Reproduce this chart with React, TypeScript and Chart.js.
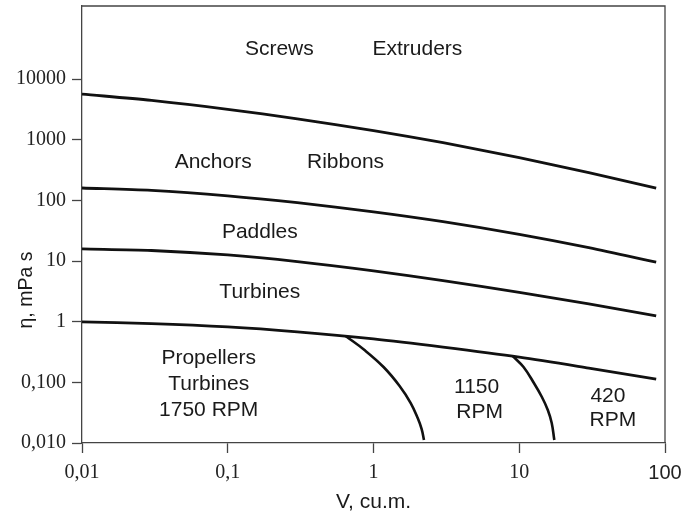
import React, { useEffect, useRef } from "react";
import { Chart, registerables } from "chart.js";

Chart.register(...registerables);

// Axis ticks
const X_TICKS = [0.01, 0.1, 1, 10, 100];
const X_TICK_LABELS = ["0,01", "0,1", "1", "10", "100"];
const Y_TICKS = [0.01, 0.1, 1, 10, 100, 1000, 10000];
const Y_TICK_LABELS = ["0,010", "0,100", "1", "10", "100", "1000", "10000"];
const X_MIN = 0.01;
const X_MAX = 100;
const Y_MIN = 0.01;
const Y_MAX = 160000;

// Boundary curves (V in cu.m., viscosity in mPa s)
const volume = [0.01, 0.03, 0.1, 0.3, 1, 3, 10, 30, 87];
const screwsBoundary = [5650, 4440, 3170, 2210, 1413, 891, 506, 286, 159];
const anchorsBoundary = [160, 146, 119, 91.6, 64.6, 44.5, 27.5, 16.6, 9.55];
const paddlesBoundary = [15.8, 14.9, 12.6, 9.8, 6.9, 4.75, 3.04, 1.96, 1.25];
const turbinesBoundary = [0.99, 0.93, 0.82, 0.68, 0.52, 0.38, 0.26, 0.172, 0.113];

// Speed boundaries
const rpm1750X = [0.643, 0.867, 1.172, 1.51, 1.8, 2.01, 2.14, 2.22];
const rpm1750Y = [0.581, 0.341, 0.179, 0.0871, 0.0456, 0.0258, 0.017, 0.0112];
const rpm1150X = [9.02, 10.7, 12.6, 14.3, 15.7, 16.7, 17.4];
const rpm1150Y = [0.272, 0.179, 0.0975, 0.0573, 0.035, 0.0214, 0.0112];

// Region labels (anchored in data coordinates: centre x, baseline y)
const regionLabels = [
  "Screws", "Extruders", "Anchors", "Ribbons", "Paddles", "Turbines",
  "Propellers", "Turbines", "1750 RPM", "1150", "RPM", "420", "RPM",
];
const labelX = [0.226, 2.0, 0.0794, 0.643, 0.166, 0.166, 0.074, 0.074, 0.074, 5.1, 5.35, 40.6, 43.9];
const labelY = [24800, 24800, 341, 341, 23.9, 2.45, 0.2, 0.0749, 0.0279, 0.0667, 0.0258, 0.0474, 0.0191];

const X_TITLE = "V, cu.m.";
const Y_TITLE = "η, mPa s";

const SANS = "'Liberation Sans', Arial, Helvetica, sans-serif";
const SERIF = "'Liberation Serif', 'Times New Roman', serif";
const AXIS_COLOR = "#444";
const LINE_COLOR = "#111";

const toPoints = (xs: number[], ys: number[]) => xs.map((x, i) => ({ x, y: ys[i] }));

const overlayPlugin = {
  id: "overlay",
  afterDraw(chart: any) {
    const { ctx, chartArea: a, scales } = chart;
    ctx.save();
    // top & right frame
    ctx.strokeStyle = AXIS_COLOR;
    ctx.lineWidth = 1.3;
    ctx.beginPath();
    ctx.moveTo(a.left, a.top);
    ctx.lineTo(a.right, a.top);
    ctx.lineTo(a.right, a.bottom);
    ctx.stroke();

    // region labels
    ctx.fillStyle = "#1a1a1a";
    ctx.font = `21px ${SANS}`;
    ctx.textAlign = "center";
    ctx.textBaseline = "alphabetic";
    regionLabels.forEach((t, i) => {
      ctx.fillText(t, scales.x.getPixelForValue(labelX[i]), scales.y.getPixelForValue(labelY[i]));
    });

    // axis titles
    ctx.font = `21px ${SANS}`;
    ctx.fillText(X_TITLE, (a.left + a.right) / 2, 508);
    ctx.translate(32, 290);
    ctx.rotate(-Math.PI / 2);
    ctx.font = `19.5px ${SANS}`;
    ctx.fillText(Y_TITLE, 0, 0);
    ctx.restore();
  },
};

const zeroPad = (s: any) => {
  s.paddingTop = 0;
  s.paddingBottom = 0;
  s.paddingLeft = 0;
  s.paddingRight = 0;
};

export default function App() {
  const ref = useRef<HTMLCanvasElement | null>(null);

  useEffect(() => {
    if (!ref.current) return;
    const lineStyle = {
      borderColor: LINE_COLOR,
      borderWidth: 2.8,
      pointRadius: 0,
      fill: false,
      tension: 0.3,
    };
    const chart = new Chart(ref.current, {
      type: "line",
      data: {
        datasets: [
          { label: "Screws / Anchors", data: toPoints(volume, screwsBoundary), ...lineStyle },
          { label: "Anchors / Paddles", data: toPoints(volume, anchorsBoundary), ...lineStyle },
          { label: "Paddles / Turbines", data: toPoints(volume, paddlesBoundary), ...lineStyle },
          { label: "Turbines / Propellers", data: toPoints(volume, turbinesBoundary), ...lineStyle },
          { label: "1750 RPM", data: toPoints(rpm1750X, rpm1750Y), ...lineStyle, borderWidth: 2.6, tension: 0.4 },
          { label: "1150 RPM", data: toPoints(rpm1150X, rpm1150Y), ...lineStyle, borderWidth: 2.6, tension: 0.4 },
        ],
      },
      options: {
        animation: false,
        responsive: false,
        maintainAspectRatio: false,
        layout: { padding: { left: 0, right: 18, top: 6, bottom: 0 } },
        plugins: { legend: { display: false }, tooltip: { enabled: false } },
        events: [],
        scales: {
          x: {
            type: "logarithmic",
            min: X_MIN,
            max: X_MAX,
            afterBuildTicks: (s: any) => {
              s.ticks = X_TICKS.map((v) => ({ value: v }));
            },
            afterFit: (s: any) => {
              s.height = 71;
              zeroPad(s);
            },
            grid: { drawOnChartArea: false, drawTicks: true, tickLength: 10, tickColor: AXIS_COLOR, tickWidth: 1.3 },
            border: { display: true, color: AXIS_COLOR, width: 1.3 },
            ticks: {
              autoSkip: false,
              maxRotation: 0,
              padding: 8,
              color: "#222",
              font: (c: any) =>
                c.tick && c.tick.value === 100
                  ? { family: SANS, size: 20 }
                  : { family: SERIF, size: 20 },
              callback: (v: any) => X_TICK_LABELS[X_TICKS.indexOf(Number(v))] ?? "",
            },
          },
          y: {
            type: "logarithmic",
            min: Y_MIN,
            max: Y_MAX,
            afterBuildTicks: (s: any) => {
              s.ticks = Y_TICKS.map((v) => ({ value: v }));
            },
            afterFit: (s: any) => {
              s.width = 82;
              zeroPad(s);
            },
            grid: { drawOnChartArea: false, drawTicks: true, tickLength: 10, tickColor: AXIS_COLOR, tickWidth: 1.3 },
            border: { display: true, color: AXIS_COLOR, width: 1.3 },
            ticks: {
              autoSkip: false,
              padding: 6,
              color: "#222",
              font: { family: SERIF, size: 20 },
              callback: (v: any) => Y_TICK_LABELS[Y_TICKS.indexOf(Number(v))] ?? "",
            },
          },
        },
      },
      plugins: [overlayPlugin],
    } as any);
    return () => chart.destroy();
  }, []);

  return (
    <div style={{ position: "fixed", left: 0, top: 0, width: 683, height: 514, background: "#fff" }}>
      <canvas ref={ref} width={683} height={514} style={{ display: "block", width: 683, height: 514 }} />
    </div>
  );
}
